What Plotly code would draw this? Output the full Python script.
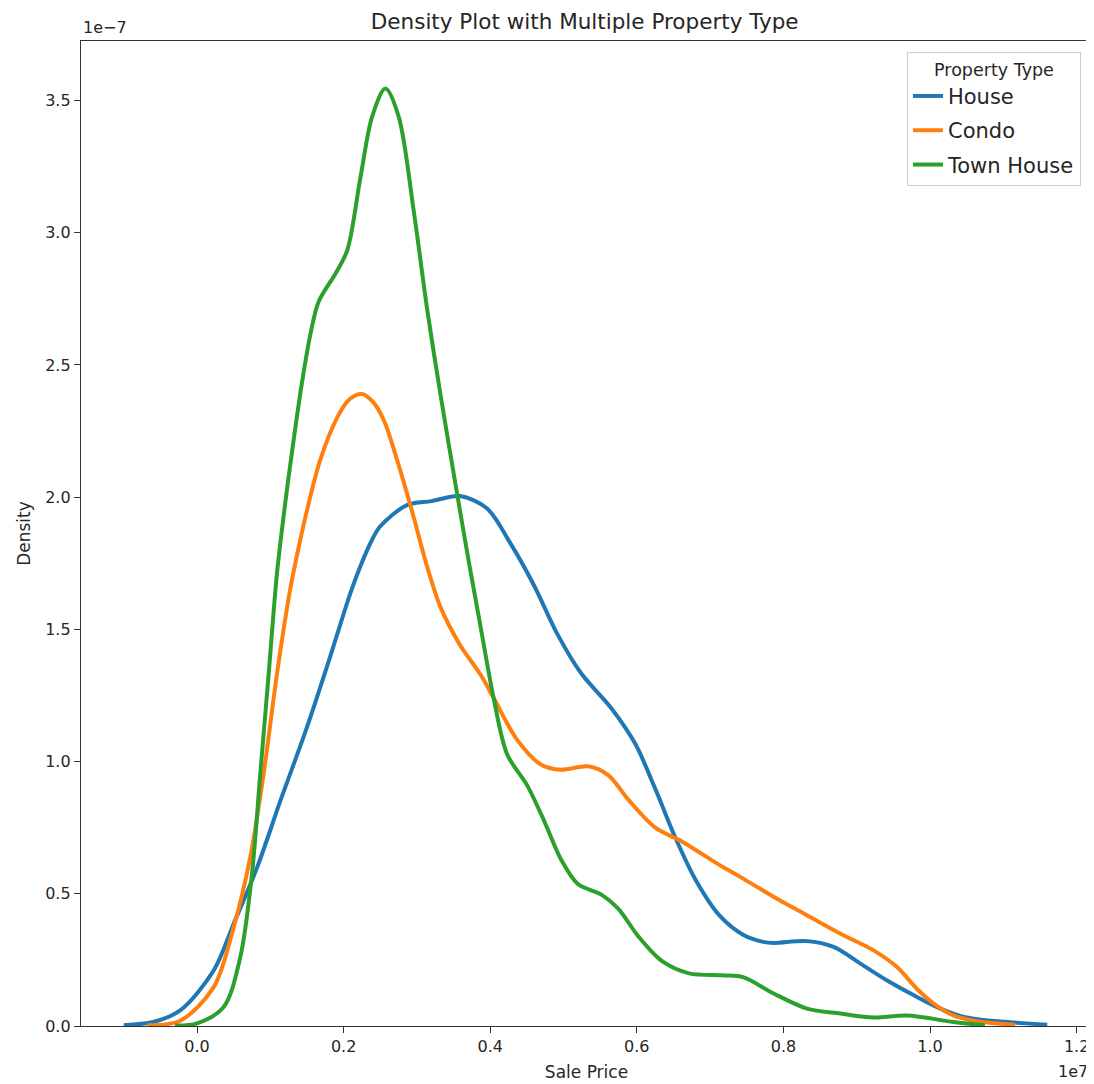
import plotly.graph_objects as go

# ---- data (x in units of 1e6, y in units of 1e-7) ----
house_x = [-1.0, -0.6, -0.23, 0.227, 0.50, 0.82, 1.14, 1.50, 1.82, 2.09, 2.23, 2.39, 2.50,
           2.865, 3.2, 3.587, 3.954, 4.276, 4.598, 4.92, 5.24, 5.655, 5.977, 6.253, 6.529,
           6.805, 7.127, 7.449, 7.724, 7.87, 8.32, 8.685, 9.05, 9.41, 9.78, 10.14, 10.5,
           10.96, 11.6]
house_y = [0.003, 0.015, 0.059, 0.21, 0.387, 0.60, 0.854, 1.13, 1.40, 1.635, 1.74, 1.84, 1.89,
           1.97, 1.985, 2.004, 1.958, 1.825, 1.666, 1.48, 1.334, 1.201, 1.068, 0.896, 0.71,
           0.551, 0.418, 0.345, 0.318, 0.314, 0.321, 0.299, 0.236, 0.173, 0.116, 0.066, 0.032,
           0.017, 0.005]

condo_x = [-0.68, -0.23, 0.227, 0.50, 0.727, 0.909, 1.09, 1.27, 1.41, 1.50, 1.68, 1.91, 2.08,
           2.25, 2.40, 2.55, 2.73, 2.955, 3.115, 3.32, 3.59, 3.865, 4.046, 4.368, 4.69, 4.966,
           5.333, 5.609, 5.885, 6.253, 6.621, 7.08, 7.41, 7.87, 8.32, 8.78, 9.23, 9.55, 9.82,
           10.05, 10.32, 10.6, 11.16]
condo_y = [0.003, 0.02, 0.147, 0.374, 0.64, 0.955, 1.33, 1.65, 1.84, 1.95, 2.14, 2.30, 2.37,
           2.39, 2.36, 2.29, 2.14, 1.925, 1.76, 1.585, 1.44, 1.33, 1.241, 1.082, 0.989, 0.969,
           0.982, 0.949, 0.856, 0.750, 0.697, 0.617, 0.564, 0.488, 0.419, 0.349, 0.286, 0.223,
           0.141, 0.085, 0.04, 0.02, 0.004]

town_x = [-0.3, 0.0, 0.363, 0.59, 0.75, 0.863, 0.977, 1.09, 1.20, 1.31, 1.43, 1.55, 1.66,
          1.89, 2.05, 2.23, 2.39, 2.57, 2.75, 2.955, 3.14, 3.32, 3.55, 3.705, 3.862, 4.046,
          4.23, 4.506, 4.735, 4.966, 5.195, 5.517, 5.746, 6.023, 6.345, 6.713, 7.173, 7.45,
          7.866, 8.32, 8.78, 9.23, 9.69, 10.32, 10.75]
town_y = [0.002, 0.01, 0.072, 0.26, 0.576, 0.955, 1.33, 1.71, 1.97, 2.20, 2.43, 2.62, 2.74,
          2.846, 2.934, 3.21, 3.44, 3.545, 3.44, 3.085, 2.71, 2.39, 2.01, 1.76, 1.52, 1.241,
          1.028, 0.909, 0.776, 0.63, 0.537, 0.497, 0.444, 0.338, 0.245, 0.199, 0.192, 0.185,
          0.123, 0.066, 0.047, 0.032, 0.040, 0.015, 0.003]

series_names = ["House", "Condo", "Town House"]
series_colors = ["#1f77b4", "#ff7f0e", "#2ca02c"]

x_tick_labels = ["0.0", "0.2", "0.4", "0.6", "0.8", "1.0", "1.2"]
y_tick_labels = ["0.0", "0.5", "1.0", "1.5", "2.0", "2.5", "3.0", "3.5"]

X_SCALE = 1e6
Y_SCALE = 1e-7

fig = go.Figure()
for name, color, xs, ys in zip(series_names, series_colors,
                               [house_x, condo_x, town_x], [house_y, condo_y, town_y]):
    fig.add_trace(go.Scatter(
        x=[v * X_SCALE for v in xs],
        y=[v * Y_SCALE for v in ys],
        mode="lines", name=name, legendgroup=name,
        line=dict(color=color, width=4, shape="spline", smoothing=0.9),
    ))

FONT = "DejaVu Sans"
TXT = "#262626"

# the page body adds an 8px offset, so the figure is 8px smaller than the window
W, H = 1086, 1076

fig.update_layout(
    width=W, height=H,
    margin=dict(l=73, r=2, t=33, b=58),
    paper_bgcolor="white", plot_bgcolor="white",
    font=dict(family=FONT, color=TXT, size=16),
    title=dict(text="Density Plot with Multiple Property Type",
               x=(584.7 - 8) / W, xanchor="center",
               y=1 - 13 / H, yanchor="middle", font=dict(size=21.5, family=FONT, color=TXT)),
    showlegend=True,
    legend=dict(
        x=0.9891, xanchor="right", y=0.9888, yanchor="top",
        bgcolor="white", bordercolor="#cccccc", borderwidth=1,
        tracegroupgap=4,
        font=dict(size=21, family=FONT, color=TXT),
        title=dict(text="Property Type", side="top center", font=dict(size=17.5, family=FONT, color=TXT)),
    ),
    xaxis=dict(
        range=[-1.583e6, 12.21e6],
        tickvals=[float(t) * 1e7 for t in x_tick_labels],
        ticktext=x_tick_labels,
        ticks="outside", ticklen=6, tickwidth=1.2, tickcolor="#333333",
        showline=True, linecolor="#333333", linewidth=1.3, mirror=True,
        showgrid=False, zeroline=False,
        tickfont=dict(size=16, family=FONT, color=TXT),
        title=dict(text="Sale Price", font=dict(size=17, family=FONT, color=TXT), standoff=10),
    ),
    yaxis=dict(
        range=[0, 3.725e-7],
        tickvals=[float(t) * 1e-7 for t in y_tick_labels],
        ticktext=y_tick_labels,
        ticks="outside", ticklen=6, tickwidth=1.2, tickcolor="#333333",
        showline=True, linecolor="#333333", linewidth=1.3, mirror=True,
        showgrid=False, zeroline=False,
        tickfont=dict(size=16, family=FONT, color=TXT),
        title=dict(text="Density", font=dict(size=17, family=FONT, color=TXT), standoff=10),
    ),
)

fig.add_annotation(text="1e\u22127", xref="paper", yref="paper", x=0, y=1,
                   xanchor="left", yanchor="bottom", yshift=2, showarrow=False,
                   font=dict(size=16, family=FONT, color=TXT))
fig.add_annotation(text="1e7", xref="paper", yref="paper", x=1, y=0,
                   xanchor="right", yanchor="middle", yshift=-45, xshift=-2, showarrow=False,
                   font=dict(size=16, family=FONT, color=TXT))

fig.write_html("out.html")
